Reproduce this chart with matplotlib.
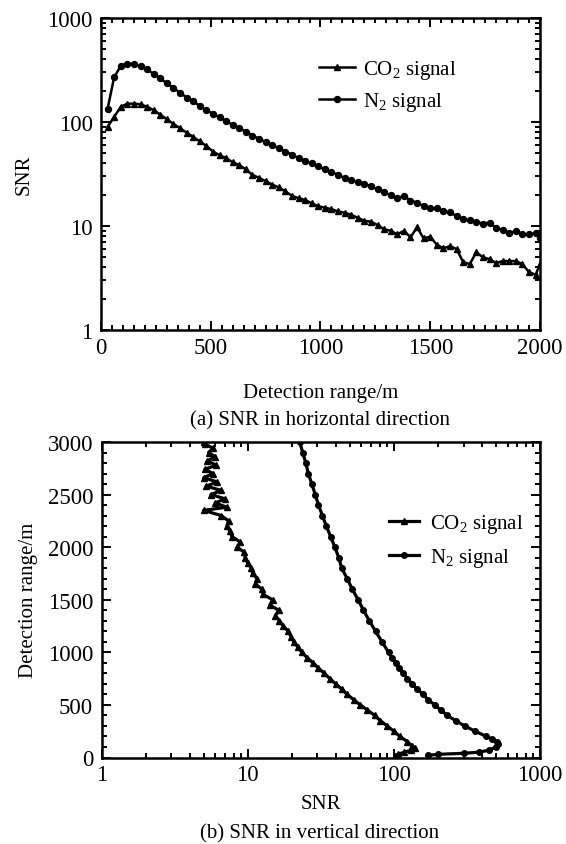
import matplotlib
matplotlib.use("Agg")
import matplotlib.pyplot as plt
import matplotlib.ticker as mticker
import numpy as np

plt.rcParams['font.family'] = ['Liberation Serif', 'DejaVu Serif']
plt.rcParams['mathtext.fontset'] = 'custom'
plt.rcParams['mathtext.rm'] = 'Liberation Serif'
plt.rcParams['mathtext.default'] = 'regular'
plt.rcParams['font.size'] = 15

# (a) horizontal direction: SNR vs detection range
h_range = [30, 60, 90, 120, 150, 180, 210, 240, 270, 300, 330, 360, 390, 420, 450,
           480, 510, 540, 570, 600, 630, 660, 690, 720, 750, 780, 810, 840, 870, 900,
           930, 960, 990, 1020, 1050, 1080, 1110, 1140, 1170, 1200, 1230, 1260, 1290,
           1320, 1350, 1380, 1410, 1440, 1470, 1500, 1530, 1560, 1590, 1620, 1650,
           1680, 1710, 1740, 1770, 1800, 1830, 1860, 1890, 1920, 1950, 1980, 2000]
h_co2 = [90, 112, 140, 150, 150, 148, 140, 130, 118, 106, 96, 87, 79, 72, 65,
         59, 52, 48, 45, 41, 38.5, 35, 31, 29, 27, 25, 23.5, 21.5, 19.5, 18.5,
         17.8, 16.5, 15.5, 15.0, 14.5, 13.8, 13.4, 12.8, 12.0, 11.2, 11.0, 10.2, 9.3,
         9.0, 8.3, 9.0, 7.8, 9.7, 7.6, 7.9, 6.6, 6.1, 6.4, 6.0, 4.5,
         4.3, 5.6, 5.0, 4.8, 4.4, 4.6, 4.6, 4.6, 4.3, 3.6, 3.4, 4.3]
h_n2 = [134, 270, 345, 365, 360, 345, 320, 290, 262, 236, 212, 192, 172, 158, 143,
        130, 120, 111, 102, 94, 87, 81, 74, 69, 64, 60, 56, 52, 48.5, 45,
        42, 40, 37.5, 35, 33, 31, 29, 27.5, 26.5, 25.5, 24, 22.5, 21,
        19.8, 18.5, 19.5, 17.5, 16.8, 15.5, 14.8, 14.8, 13.8, 13.5, 12.5, 11.6,
        11.3, 11.0, 10.5, 10.8, 9.6, 9.2, 8.6, 8.9, 8.3, 8.3, 8.5, 7.7]

# (b) vertical direction: altitude vs SNR
v_alt_co2 = [15, 30, 50, 70, 90, 110, 150, 200, 250, 300, 350, 400, 450, 500, 550,
             600, 650, 700, 750, 800, 850, 900, 950, 1000, 1050, 1100, 1150, 1200,
             1250, 1300, 1350, 1400, 1450, 1500, 1550, 1600, 1650, 1700, 1750, 1800,
             1850, 1900, 1950, 2000, 2050, 2100, 2150, 2200, 2250, 2300, 2350, 2380,
             2420, 2460, 2500, 2540, 2580, 2620, 2660, 2700, 2740, 2780, 2820, 2860,
             2900, 2940, 2980, 3000]
v_co2 = [102, 106, 118, 132, 139, 133, 124, 110, 100, 90, 81, 74, 66, 59, 53,
         48, 44, 40, 36.5, 33.5, 30.5, 28, 25.5, 23.5, 22, 20.7, 19.8, 19,
         17.5, 16.5, 15.5, 16.3, 14.2, 14.8, 12.8, 12.5, 11.3, 11.6, 10.8, 10.6,
         10.0, 9.6, 9.5, 8.5, 8.9, 7.8, 7.6, 7.2, 7.4, 6.6, 5.0, 7.2,
         6.0, 7.0, 5.6, 6.6, 5.2, 6.2, 5.0, 5.8, 5.1, 6.1, 5.3, 6.0,
         5.4, 5.8, 5.1, 5.0]
v_alt_n2 = [20, 30, 40, 50, 70, 100, 130, 150, 175, 200, 250, 300, 350, 400, 450,
            500, 550, 600, 650, 700, 750, 800, 850, 900, 950, 1000, 1100, 1200,
            1300, 1400, 1500, 1600, 1700, 1800, 1900, 2000, 2100, 2200, 2300, 2400,
            2500, 2600, 2700, 2800, 2900, 3000]
v_n2 = [170, 200, 300, 380, 450, 500, 515, 505, 470, 430, 360, 305, 265, 232, 210,
        190, 172, 158, 145, 133, 124, 116, 109, 103, 97, 92, 83, 75,
        68, 62, 57, 52, 48, 44, 42, 39.5, 37, 34.5, 32.5, 30.5,
        29, 27.5, 26, 25, 23.8, 22.7]

W, H = 566, 845
fig = plt.figure(figsize=(W / 100, H / 100), dpi=100)


def box(l, t, r, b):
    return [l / W, 1 - b / H, (r - l) / W, (b - t) / H]


def style(ax):
    for s in ax.spines.values():
        s.set_linewidth(1.8)
    ax.tick_params(which='both', direction='in', top=True, right=True, width=1.4)
    ax.tick_params(which='major', length=6.5, labelsize=16.5)
    ax.tick_params(which='minor', length=3.8)
    ax.tick_params(axis='x', pad=5)
    ax.tick_params(axis='y', pad=6)


# ---- (a)
ax1 = fig.add_axes(box(101, 19, 540, 331))
ax1.plot(h_range, h_co2, color='black', lw=1.8, marker='^', ms=5, label='CO$_2$ signal')
ax1.plot(h_range, h_n2, color='black', lw=1.8, marker='o', ms=4.3, label='N$_2$ signal')
ax1.set_yscale('log')
ax1.set_xlim(0, 2000)
ax1.set_ylim(1, 1000)
ax1.xaxis.set_major_locator(mticker.MultipleLocator(500))
ax1.xaxis.set_minor_locator(mticker.MultipleLocator(50))
ax1.yaxis.set_major_formatter(mticker.FuncFormatter(lambda v, p: f'{v:g}'))
ax1.set_xlabel('Detection range/m', fontsize=15, labelpad=18)
ax1.set_ylabel('SNR', fontsize=15, labelpad=10)
style(ax1)
ax1.legend(loc='upper left', bbox_to_anchor=(319 / W, 1 - 59 / H),
           bbox_transform=fig.transFigure, frameon=False, fontsize=15,
           handlelength=1.75, handletextpad=0.35, labelspacing=0.45,
           borderpad=0, borderaxespad=0, numpoints=1)
fig.text(320 / W, 1 - 421 / H, '(a) SNR in horizontal direction',
         ha='center', va='center', fontsize=15)

# ---- (b)
ax2 = fig.add_axes(box(101.5, 443, 540, 758.5))
ax2.plot(v_co2, v_alt_co2, color='black', lw=2.3, marker='^', ms=4, label='CO$_2$ signal')
ax2.plot(v_n2, v_alt_n2, color='black', lw=2.3, marker='o', ms=4, label='N$_2$ signal')
ax2.set_xscale('log')
ax2.set_xlim(1, 1000)
ax2.set_ylim(0, 3000)
ax2.yaxis.set_major_locator(mticker.MultipleLocator(500))
ax2.yaxis.set_minor_locator(mticker.MultipleLocator(100))
ax2.xaxis.set_major_formatter(mticker.FuncFormatter(lambda v, p: f'{v:g}'))
ax2.set_xlabel('SNR', fontsize=15, labelpad=6)
ax2.set_ylabel('Detection range/m', fontsize=15, labelpad=7)
style(ax2)
ax2.legend(loc='upper left', bbox_to_anchor=(389 / W, 1 - 513 / H),
           bbox_transform=fig.transFigure, frameon=False, fontsize=15,
           handlelength=1.45, handletextpad=0.5, labelspacing=0.55,
           borderpad=0, borderaxespad=0, numpoints=1)
fig.text(320 / W, 1 - 834 / H, '(b) SNR in vertical direction',
         ha='center', va='center', fontsize=15)

fig.savefig('out.png', dpi=100)
